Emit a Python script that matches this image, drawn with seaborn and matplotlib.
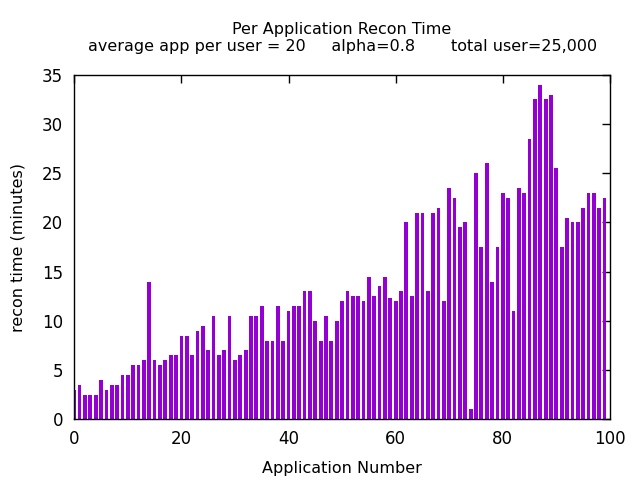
import numpy as np
import pandas as pd
import matplotlib
matplotlib.use("Agg")
import matplotlib.pyplot as plt
import seaborn as sns

# tempo di ricostruzione per applicazione
app_number = list(range(100))
recon_time = [
    3.0, 3.5, 2.5, 2.5, 2.5, 4.0, 3.0, 3.5, 3.5, 4.5,
    4.5, 5.5, 5.5, 6.0, 14.0, 6.0, 5.5, 6.0, 6.5, 6.5,
    8.5, 8.5, 6.5, 9.0, 9.5, 7.0, 10.5, 6.5, 7.0, 10.5,
    6.0, 6.5, 7.0, 10.5, 10.5, 11.5, 8.0, 8.0, 11.5, 8.0,
    11.0, 11.5, 11.5, 13.0, 13.0, 10.0, 8.0, 10.5, 8.0, 10.0,
    12.0, 13.0, 12.5, 12.5, 12.0, 14.5, 12.5, 13.5, 14.5, 12.3,
    12.0, 13.0, 20.0, 12.5, 21.0, 21.0, 13.0, 21.0, 21.5, 12.0,
    23.5, 22.5, 19.5, 20.0, 1.0, 25.0, 17.5, 26.0, 14.0, 17.5,
    23.0, 22.5, 11.0, 23.5, 23.0, 28.5, 32.5, 34.0, 32.5, 33.0,
    25.5, 17.5, 20.5, 20.0, 20.0, 21.5, 23.0, 23.0, 21.5, 22.5,
]
x_ticks = [0, 20, 40, 60, 80, 100]
y_ticks = [0, 5, 10, 15, 20, 25, 30, 35]

df = pd.DataFrame({"app": app_number, "time": recon_time})

sns.set_style("white")
plt.rcParams["font.family"] = ["DejaVu Sans"]
plt.rcParams["text.color"] = "black"
plt.rcParams["axes.labelcolor"] = "black"

fig = plt.figure(figsize=(6.4, 4.8), dpi=100)
ax = fig.add_axes([0.116, 0.1265, 0.837, 0.7175])

sns.barplot(
    data=df,
    x="app",
    y="time",
    native_scale=True,
    width=0.7,
    color="#9400D3",
    saturation=1,
    linewidth=0,
    errorbar=None,
    ax=ax,
)

ax.set_xlim(0, 100)
ax.set_ylim(0, 35)
ax.set_xticks(x_ticks)
ax.set_yticks(y_ticks)
ax.tick_params(direction="in", length=6, width=1, top=True, right=True,
               labelsize=12, pad=8, colors="black")
for s in ax.spines.values():
    s.set_visible(True)
    s.set_color("black")
    s.set_linewidth(1)

ax.set_xlabel("Application Number", fontsize=11.5, labelpad=9)
ax.set_ylabel("recon time (minutes)", fontsize=11.5, labelpad=12)
ax.set_title(
    "Per Application Recon Time\n"
    "average app per user = 20     alpha=0.8       total user=25,000",
    fontsize=11.5,
    pad=17,
    linespacing=1.15,
)

fig.savefig("out.png", dpi=100)
